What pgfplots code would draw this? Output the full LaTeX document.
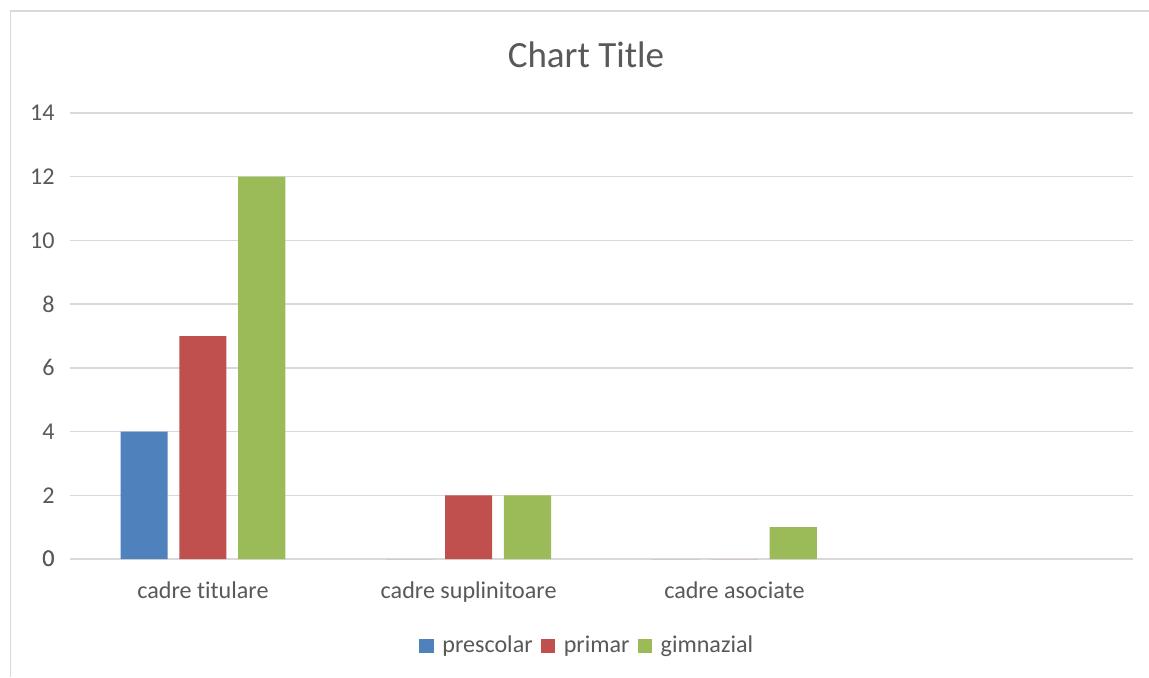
\documentclass[border=0pt]{standalone}
\usepackage{fontspec}
\setmainfont{Carlito}[Ligatures=NoCommon]
\usepackage{pgfplots}
\pgfplotsset{compat=1.18}

\definecolor{serA}{HTML}{4F81BD}
\definecolor{serB}{HTML}{C0504D}
\definecolor{serC}{HTML}{9BBB59}
\definecolor{gridc}{HTML}{D9D9D9}
\definecolor{txt}{HTML}{595959}

\begin{document}
\begin{tikzpicture}
  % page: 410pt x 241.6pt, axis box at (0,0)
  \useasboundingbox (-25pt,-42.1pt) rectangle (385pt,199.5pt);
  \fill[white] (-25pt,-42.1pt) rectangle (385pt,199.5pt);
  \draw[gridc, line width=0.6pt] (-21.2pt,-42.1pt) -- (-21.2pt,195.6pt) -- (385pt,195.6pt);

  \begin{axis}[
    at={(0,0)}, anchor=south west, name=ax,
    scale only axis,
    width=379.3pt, height=159.2pt,
    ybar=4.2pt, bar width=16.8pt,
    xmin=-0.5, xmax=3.5,
    ymin=0, ymax=14,
    xtick={0,1,2},
    xticklabels={cadre titulare, cadre suplinitoare, cadre asociate},
    ytick={0,2,...,14},
    ymajorgrids,
    grid style={gridc, line width=0.5pt},
    axis line style={draw=none},
    axis x line*=bottom,
    extra y ticks={0},
    extra y tick style={grid style={gridc, line width=0.6pt}},
    major tick length=0pt,
    tick label style={font=\fontsize{8.6}{10.5}\selectfont, text=txt},
    /pgf/number format/assume math mode=true,
    yticklabel style={xshift=-2pt},
    xticklabel style={yshift=-4.5pt},
    legend style={
      at={(185.2pt,-31pt)}, anchor=center,
      draw=none, fill=none,
      legend columns=-1,
      font=\fontsize{8.6}{10.5}\selectfont, text=txt,
      /tikz/every odd column/.append style={column sep=1pt},
      /tikz/every even column/.append style={column sep=0.9pt},
    },
    legend image code/.code={\fill[#1] (0pt,-2.6pt) rectangle (5.2pt,2.6pt);},
    legend cell align=left,
  ]
    \addplot[fill=serA, draw=none] coordinates {(0,4) (1,0) (2,0)};
    \addlegendentry{prescolar}
    \addplot[fill=serB, draw=none] coordinates {(0,7) (1,2) (2,0)};
    \addlegendentry{primar}
    \addplot[fill=serC, draw=none] coordinates {(0,12) (1,2) (2,1)};
    \addlegendentry{gimnazial}
  \end{axis}

  \node[text=txt, font=\fontsize{13.2}{16}\selectfont] at (184.1pt,179.9pt) {Chart Title};
\end{tikzpicture}
\end{document}
